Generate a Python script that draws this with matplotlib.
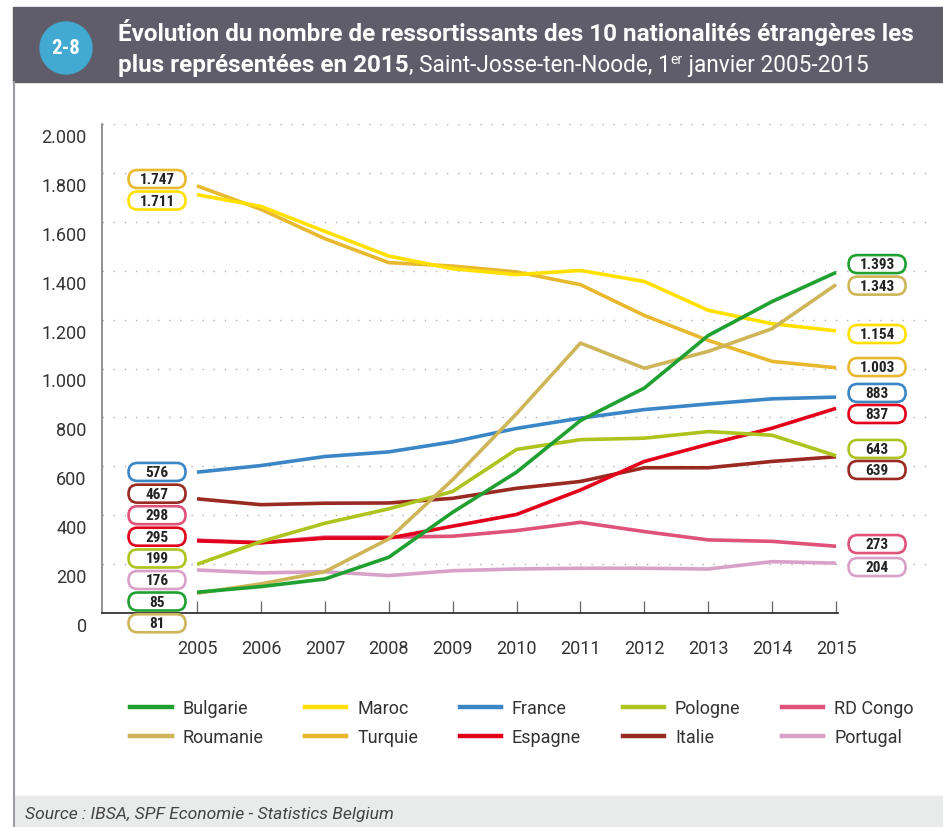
import matplotlib
matplotlib.use("Agg")
import matplotlib.pyplot as plt
import matplotlib.transforms as mtransforms
from matplotlib.patches import Rectangle, Circle, FancyBboxPatch
from matplotlib.lines import Line2D

# --- data ---
years = list(range(2005, 2016))

bulgarie = [85, 108, 139, 228, 412, 576, 787, 920, 1135, 1274, 1393]
roumanie = [81, 119, 169, 303, 545, 815, 1104, 1001, 1070, 1163, 1343]
maroc = [1711, 1663, 1561, 1460, 1408, 1384, 1401, 1356, 1238, 1183, 1154]
turquie = [1747, 1651, 1531, 1433, 1419, 1395, 1343, 1217, 1115, 1029, 1003]
france = [576, 603, 640, 659, 700, 755, 797, 832, 855, 876, 883]
espagne = [295, 287, 306, 306, 355, 403, 503, 620, 690, 756, 837]
pologne = [199, 292, 367, 426, 497, 669, 709, 715, 742, 727, 643]
italie = [467, 443, 449, 450, 469, 510, 538, 594, 594, 620, 639]
rd_congo = [298, 288, 310, 310, 314, 337, 371, 333, 299, 293, 273]
portugal = [176, 164, 169, 153, 173, 180, 183, 183, 180, 210, 204]

series = {
    "Bulgarie": (bulgarie, "#20A030"),
    "Roumanie": (roumanie, "#CDB558"),
    "Maroc": (maroc, "#FFE000"),
    "Turquie": (turquie, "#E8B92E"),
    "France": (france, "#3A86C6"),
    "Espagne": (espagne, "#E3001B"),
    "Pologne": (pologne, "#AEC41E"),
    "Italie": (italie, "#992A22"),
    "RD Congo": (rd_congo, "#DF527A"),
    "Portugal": (portugal, "#D8A2C8"),
}

# drawing order (last on top)
draw_order = ["Portugal", "RD Congo", "Italie", "Espagne", "Pologne", "France",
              "Turquie", "Maroc", "Roumanie", "Bulgarie"]

# label stacks: (series, y position of the tag in data units)
left_tags = [("Turquie", 1775), ("Maroc", 1687), ("France", 577), ("Italie", 488),
             ("RD Congo", 400), ("Espagne", 312), ("Pologne", 223), ("Portugal", 135),
             ("Bulgarie", 47), ("Roumanie", -42)]
right_tags = [("Bulgarie", 1427), ("Roumanie", 1339), ("Maroc", 1141), ("Turquie", 1006),
              ("France", 900), ("Espagne", 814), ("Pologne", 671), ("Italie", 585),
              ("RD Congo", 282), ("Portugal", 188)]

y_ticks = [0, 200, 400, 600, 800, 1000, 1200, 1400, 1600, 1800, 2000]
y_ticklabels = ["0", "200", "400", "600", "800", "1.000", "1.200", "1.400",
                "1.600", "1.800", "2.000"]

NARROW = ["Roboto Condensed", "Roboto", "DejaVu Sans"]
BODY = ["Roboto", "DejaVu Sans"]

W, H = 943, 828
fig = plt.figure(figsize=(W / 100, H / 100), dpi=100)


def fx(x):
    return x / W


def fy(y):
    return 1 - y / H


def fmt(v):
    return f"{v:,}".replace(",", ".")


# --- frame: header band, left border, source band ---
fig.patches.append(Rectangle((fx(13), fy(83)), 1 - fx(13), (83 - 8) / H,
                             transform=fig.transFigure, color="#5F5D6A", zorder=0))
fig.add_artist(Line2D([fx(14), fx(14)], [fy(83), 0], transform=fig.transFigure,
                      color="#9B9BA2", lw=1.5))
fig.patches.append(Rectangle((fx(15), 0), 1 - fx(15), (H - 797) / H,
                             transform=fig.transFigure, color="#E9EBEA", zorder=0))
fig.text(fx(25), fy(815), "Source : IBSA, SPF Economie - Statistics Belgium",
         family=BODY, style="italic", fontsize=12.6, color="#444444", va="center")

# badge
fig.patches.append(Circle((66, H - 49), 26, transform=None, color="#42A9D2", zorder=1))
fig.text(fx(66), fy(49), "2-8", family=NARROW, weight="bold", fontsize=15,
         color="white", ha="center", va="center")

# title
tkw = dict(family=BODY, color="white", va="baseline")
fig.text(fx(118), fy(41), "Évolution du nombre de ressortissants des 10 nationalités "
         "étrangères les", weight="bold", fontsize=17.5, **tkw)
renderer = fig.canvas.get_renderer()
x = fx(118)
for txt, weight, size, dy in [("plus représentées en 2015", "bold", 17.5, 0),
                              (", Saint-Josse-ten-Noode, 1", "normal", 16.3, 0),
                              ("er", "normal", 10, 8),
                              (" janvier 2005-2015", "normal", 16.3, 0)]:
    t = fig.text(x, fy(72 - dy), txt, weight=weight, fontsize=size, **tkw)
    x = fig.transFigure.inverted().transform(t.get_window_extent(renderer))[1][0]

# --- chart ---
ax = fig.add_axes([fx(102), fy(614), fx(930) - fx(102), (614 - 125) / H])
ax.set_xlim(2003.513, 2016.47)
ax.set_ylim(0, 2000)
ax.patch.set_visible(False)

for y in y_ticks[1:]:
    ax.axhline(y, color="#B0B0B0", lw=1, ls=(0, (1, 7)), zorder=0)

for name in draw_order:
    vals, col = series[name]
    ax.plot(years, vals, color=col, lw=2.6, solid_capstyle="butt", zorder=3)

for sp in ["top", "right"]:
    ax.spines[sp].set_visible(False)
ax.spines["left"].set_color("#808080")
ax.spines["left"].set_linewidth(1.2)
ax.spines["bottom"].set_color("#333333")
ax.spines["bottom"].set_linewidth(1.3)
ax.spines["bottom"].set_bounds(2003.513, 2015.03)

ax.set_xticks(years)
ax.set_xticklabels([str(y) for y in years], family=BODY, fontsize=13, color="#333333")
ax.tick_params(axis="x", direction="in", length=8.5, width=0.9, color="#666666", pad=19)
ax.set_yticks(y_ticks)
ax.set_yticklabels(y_ticklabels, family=BODY, fontsize=13, color="#333333")
ax.tick_params(axis="y", length=0, pad=11)
shift = mtransforms.ScaledTranslation(0, -0.11, fig.dpi_scale_trans)
for lab in ax.get_yticklabels():
    lab.set_transform(lab.get_transform() + shift)


def tag(xd, yd, text, color):
    trans = fig.dpi_scale_trans + mtransforms.ScaledTranslation(xd, yd, ax.transData)
    box = FancyBboxPatch((-0.285, -0.09), 0.57, 0.18,
                         boxstyle="round,pad=0,rounding_size=0.09",
                         transform=trans, facecolor="white", edgecolor=color,
                         lw=1.9, clip_on=False, zorder=5)
    ax.add_patch(box)
    ax.text(0, 0, text, transform=trans, ha="center", va="center", family=NARROW,
            weight="bold", fontsize=11, color="#222222", zorder=6, clip_on=False)


for name, yd in left_tags:
    vals, col = series[name]
    tag(2004.374, yd, fmt(vals[0]), col)
for name, yd in right_tags:
    vals, col = series[name]
    tag(2015.642, yd, fmt(vals[-1]), col)

# legend (column-first fill matches the two-row layout)
handles = [Line2D([], [], color=series[n][1], lw=3.2) for n in series]
fig.legend(handles, list(series), loc="upper left", ncol=5,
           bbox_to_anchor=(fx(130), fy(700)), frameon=False, borderpad=0,
           borderaxespad=0, handlelength=2.3, handletextpad=0.6, columnspacing=2.3,
           labelspacing=0.62, prop={"family": BODY, "size": 13}, labelcolor="#333333")

fig.savefig("out.png", dpi=100)
